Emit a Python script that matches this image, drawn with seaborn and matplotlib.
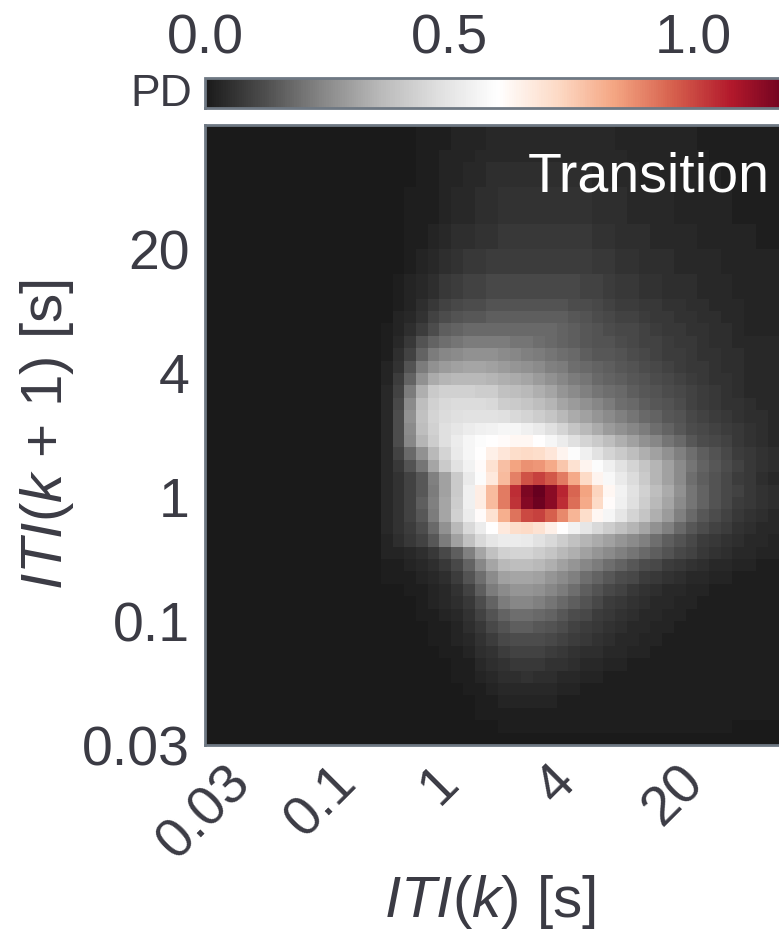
import numpy as np
import matplotlib
matplotlib.use("Agg")
import matplotlib.pyplot as plt
from matplotlib.ticker import FormatStrFormatter
import seaborn as sns

sns.set_theme(style="white")
plt.rcParams["font.family"] = ["Liberation Sans", "DejaVu Sans"]
plt.rcParams["mathtext.fontset"] = "custom"
plt.rcParams["mathtext.rm"] = "Liberation Sans"
plt.rcParams["mathtext.it"] = "Liberation Sans:italic"

TEXT = "#3b3b44"
EDGE = "#6e7883"

# ITI bin labels shared by both axes (one label every tenth bin)
ITI_TICK_LABELS = ["0.03", "0.1", "1", "4", "20"]
CBAR_TICKS = [0.0, 0.5, 1.0]
PD_MAX = 1.2

# Transition density, percent of PD_MAX; rows run from long ITI(k+1) (top)
# to short (bottom); every row holds 15 empty bins followed by bins 15..49.
LEAD = [0] * 15
PD_LEVELS = [
    LEAD + [0, 0, 0, 1, 1, 1, 2, 2, 2, 3, 3, 3, 3, 3, 3, 3, 3, 3, 3, 3, 2, 2, 2, 2, 2, 2, 2, 1, 1, 1, 1, 1, 1, 1, 1],
    LEAD + [0, 0, 0, 1, 1, 1, 2, 2, 2, 3, 3, 3, 3, 3, 3, 3, 3, 3, 3, 3, 2, 2, 2, 2, 2, 2, 2, 1, 1, 1, 1, 1, 1, 1, 1],
    LEAD + [0, 0, 0, 1, 1, 2, 2, 2, 3, 3, 3, 3, 3, 3, 3, 3, 3, 3, 3, 3, 3, 2, 2, 2, 2, 2, 2, 2, 1, 1, 1, 1, 1, 1, 1],
    LEAD + [0, 0, 0, 1, 1, 2, 2, 3, 3, 4, 4, 4, 4, 4, 4, 4, 4, 4, 3, 3, 3, 3, 2, 2, 2, 2, 2, 2, 2, 1, 1, 1, 1, 1, 1],
    LEAD + [0, 0, 0, 1, 1, 2, 2, 3, 3, 4, 4, 4, 4, 4, 4, 4, 4, 4, 3, 3, 3, 3, 2, 2, 2, 2, 2, 2, 2, 1, 1, 1, 1, 1, 1],
    LEAD + [0, 0, 1, 1, 1, 2, 3, 3, 4, 4, 5, 5, 5, 5, 5, 5, 5, 5, 4, 4, 4, 3, 3, 3, 3, 2, 2, 2, 2, 2, 1, 1, 1, 1, 1],
    LEAD + [0, 0, 1, 1, 1, 2, 3, 3, 4, 4, 5, 5, 5, 5, 5, 5, 5, 5, 4, 4, 4, 3, 3, 3, 3, 2, 2, 2, 2, 2, 1, 1, 1, 1, 1],
    LEAD + [0, 0, 1, 1, 1, 2, 3, 3, 4, 4, 5, 5, 5, 5, 5, 5, 5, 5, 4, 4, 4, 3, 3, 3, 3, 2, 2, 2, 2, 2, 1, 1, 1, 1, 1],
    LEAD + [0, 0, 1, 1, 2, 3, 4, 4, 5, 5, 6, 6, 6, 6, 6, 6, 6, 6, 5, 5, 4, 4, 4, 3, 3, 3, 3, 2, 2, 2, 2, 2, 1, 1, 1],
    LEAD + [0, 0, 1, 1, 2, 3, 4, 4, 5, 5, 6, 6, 6, 6, 6, 6, 6, 6, 5, 5, 4, 4, 4, 3, 3, 3, 3, 2, 2, 2, 2, 2, 1, 1, 1],
    LEAD + [0, 0, 1, 2, 3, 4, 5, 6, 6, 7, 7, 7, 7, 7, 7, 7, 7, 7, 6, 6, 5, 5, 4, 4, 4, 3, 3, 3, 3, 2, 2, 2, 2, 2, 2],
    LEAD + [0, 0, 1, 2, 3, 4, 5, 6, 6, 7, 7, 7, 7, 7, 7, 7, 7, 7, 6, 6, 5, 5, 4, 4, 4, 3, 3, 3, 3, 2, 2, 2, 2, 2, 2],
    LEAD + [0, 1, 2, 3, 4, 6, 7, 8, 8, 9, 9, 9, 9, 9, 9, 9, 9, 8, 8, 7, 6, 6, 5, 5, 4, 4, 4, 3, 3, 3, 2, 2, 2, 2, 2],
    LEAD + [0, 1, 2, 3, 4, 6, 7, 8, 8, 9, 9, 9, 9, 9, 9, 9, 9, 8, 8, 7, 6, 6, 5, 5, 4, 4, 4, 3, 3, 3, 2, 2, 2, 2, 2],
    LEAD + [0, 1, 2, 4, 6, 8, 9, 10, 10, 11, 11, 11, 11, 11, 11, 11, 10, 10, 9, 8, 7, 7, 6, 6, 5, 5, 4, 4, 3, 3, 3, 2, 2, 2, 2],
    LEAD + [0, 2, 3, 5, 8, 10, 11, 12, 12, 13, 13, 13, 13, 13, 13, 13, 12, 11, 10, 9, 8, 8, 7, 6, 6, 5, 5, 4, 4, 3, 3, 2, 2, 2, 2],
    LEAD + [1, 2, 4, 7, 10, 13, 14, 15, 15, 15, 15, 15, 15, 15, 15, 14, 13, 12, 11, 10, 9, 9, 8, 7, 6, 6, 5, 5, 4, 4, 3, 2, 2, 2, 2],
    LEAD + [1, 3, 6, 11, 14, 16, 17, 18, 18, 18, 18, 17, 17, 16, 15, 14, 13, 12, 11, 11, 10, 9, 8, 8, 7, 6, 6, 5, 4, 4, 3, 3, 3, 3, 3],
    LEAD + [1, 4, 8, 14, 18, 20, 21, 22, 22, 22, 21, 20, 19, 18, 17, 16, 15, 13, 12, 12, 11, 10, 9, 8, 7, 7, 6, 5, 5, 4, 4, 3, 3, 3, 3],
    LEAD + [2, 5, 11, 18, 22, 24, 25, 26, 26, 25, 24, 23, 22, 21, 19, 18, 16, 15, 14, 13, 12, 11, 10, 9, 8, 7, 6, 6, 5, 4, 4, 3, 3, 3, 3],
    LEAD + [2, 7, 14, 22, 27, 29, 30, 30, 30, 29, 28, 27, 26, 24, 22, 20, 18, 17, 15, 14, 13, 12, 11, 10, 9, 8, 7, 6, 5, 5, 4, 3, 3, 3, 3],
    LEAD + [3, 8, 18, 28, 34, 36, 36, 36, 35, 35, 32, 31, 30, 28, 26, 23, 21, 19, 17, 16, 15, 13, 12, 11, 10, 9, 8, 7, 6, 5, 4, 3, 3, 3, 3],
    LEAD + [3, 9, 21, 31, 36, 38, 39, 39, 39, 38, 35, 34, 33, 31, 29, 26, 24, 22, 20, 18, 16, 15, 13, 12, 11, 10, 8, 7, 6, 5, 5, 4, 3, 3, 3],
    LEAD + [3, 10, 22, 32, 37, 39, 40, 41, 41, 41, 40, 38, 37, 35, 33, 30, 27, 25, 23, 21, 19, 17, 15, 14, 12, 11, 9, 8, 7, 6, 5, 4, 4, 3, 3],
    LEAD + [3, 10, 21, 31, 36, 40, 42, 44, 45, 46, 47, 47, 45, 43, 40, 37, 33, 30, 27, 24, 22, 20, 18, 16, 14, 12, 10, 9, 8, 7, 6, 5, 4, 3, 3],
    LEAD + [3, 10, 20, 29, 35, 40, 44, 47, 49, 50, 51, 52, 52, 50, 47, 44, 40, 37, 34, 31, 28, 25, 22, 20, 17, 15, 12, 10, 9, 8, 6, 5, 4, 3, 3],
    LEAD + [3, 8, 15, 22, 30, 37, 43, 47, 50, 54, 57, 59, 60, 59, 57, 53, 49, 45, 41, 37, 34, 31, 28, 25, 22, 19, 16, 13, 11, 9, 7, 6, 5, 4, 3],
    LEAD + [3, 6, 11, 17, 26, 34, 41, 46, 51, 58, 65, 70, 73, 72, 69, 64, 58, 53, 49, 45, 41, 37, 33, 29, 25, 21, 17, 14, 12, 10, 8, 6, 5, 4, 3],
    LEAD + [3, 5, 8, 12, 19, 25, 34, 43, 49, 56, 66, 75, 82, 84, 81, 76, 69, 60, 53, 48, 43, 39, 34, 29, 25, 21, 16, 13, 11, 9, 7, 6, 4, 3, 2],
    LEAD + [3, 5, 8, 12, 18, 25, 34, 45, 55, 66, 76, 87, 97, 100, 95, 88, 79, 70, 61, 52, 46, 41, 36, 31, 27, 22, 17, 14, 11, 9, 8, 6, 5, 4, 3],
    LEAD + [3, 5, 8, 13, 19, 26, 35, 45, 55, 66, 76, 86, 96, 99, 95, 87, 78, 69, 60, 51, 45, 40, 35, 30, 26, 21, 17, 14, 11, 9, 7, 6, 5, 4, 3],
    LEAD + [3, 5, 8, 12, 18, 26, 36, 44, 51, 58, 68, 77, 83, 84, 80, 74, 67, 59, 52, 47, 42, 37, 33, 28, 24, 19, 15, 12, 10, 8, 6, 5, 4, 3, 2],
    LEAD + [3, 5, 7, 10, 15, 22, 30, 38, 44, 50, 56, 59, 60, 58, 54, 50, 46, 42, 38, 35, 32, 29, 26, 22, 19, 15, 12, 10, 8, 7, 5, 4, 3, 3, 2],
    LEAD + [2, 4, 6, 8, 12, 18, 25, 32, 38, 42, 44, 44, 43, 41, 38, 35, 32, 29, 27, 25, 23, 21, 19, 16, 13, 11, 9, 7, 6, 5, 4, 3, 3, 2, 2],
    LEAD + [2, 2, 3, 4, 6, 9, 13, 19, 26, 32, 36, 37, 37, 35, 33, 30, 28, 25, 23, 21, 19, 17, 15, 13, 11, 9, 8, 6, 5, 4, 3, 3, 2, 2, 2],
    LEAD + [1, 1, 2, 3, 4, 6, 9, 14, 20, 26, 30, 31, 31, 30, 28, 25, 23, 20, 18, 16, 14, 12, 10, 9, 7, 6, 5, 4, 3, 3, 2, 2, 1, 1, 1],
    LEAD + [1, 1, 1, 2, 3, 4, 7, 11, 16, 21, 25, 26, 26, 25, 23, 21, 19, 16, 14, 12, 10, 9, 7, 6, 5, 4, 3, 3, 2, 2, 1, 1, 1, 1, 1],
    LEAD + [0, 0, 1, 1, 2, 3, 5, 8, 13, 18, 21, 23, 23, 22, 20, 18, 16, 13, 11, 9, 8, 6, 5, 4, 3, 3, 2, 2, 1, 1, 1, 1, 1, 1, 1],
    LEAD + [0, 0, 0, 1, 2, 3, 4, 6, 10, 14, 18, 20, 20, 19, 17, 15, 13, 11, 9, 7, 6, 5, 4, 3, 3, 2, 2, 1, 1, 1, 1, 1, 1, 1, 1],
    LEAD + [0, 0, 0, 1, 1, 2, 3, 5, 8, 11, 14, 16, 16, 15, 14, 12, 10, 9, 7, 6, 5, 4, 3, 3, 2, 2, 1, 1, 1, 1, 1, 1, 1, 1, 1],
    LEAD + [0, 0, 0, 0, 1, 1, 2, 4, 6, 9, 11, 13, 13, 12, 11, 10, 8, 7, 6, 5, 4, 3, 3, 2, 2, 1, 1, 1, 1, 1, 1, 1, 1, 1, 1],
    LEAD + [0, 0, 0, 0, 1, 1, 2, 3, 5, 7, 9, 10, 10, 10, 9, 8, 7, 6, 5, 4, 3, 3, 2, 2, 1, 1, 1, 1, 1, 1, 1, 1, 1, 1, 1],
    LEAD + [0, 0, 0, 0, 0, 1, 1, 2, 4, 5, 7, 8, 8, 8, 7, 6, 5, 4, 4, 3, 3, 2, 2, 1, 1, 1, 1, 1, 1, 1, 1, 1, 1, 1, 1],
    LEAD + [0, 0, 0, 0, 0, 0, 1, 1, 3, 4, 5, 6, 6, 6, 5, 5, 4, 3, 3, 2, 2, 1, 1, 1, 1, 1, 1, 1, 1, 1, 1, 1, 1, 1, 1],
    LEAD + [0, 0, 0, 0, 0, 0, 1, 1, 2, 3, 4, 4, 5, 4, 4, 3, 3, 2, 2, 1, 1, 1, 1, 1, 1, 1, 1, 1, 1, 1, 1, 1, 1, 1, 1],
    LEAD + [0, 0, 0, 0, 0, 0, 0, 1, 1, 2, 3, 3, 3, 3, 3, 2, 2, 1, 1, 1, 1, 1, 1, 1, 1, 1, 1, 1, 1, 1, 1, 1, 1, 1, 1],
    LEAD + [0, 0, 0, 0, 0, 0, 0, 0, 1, 1, 2, 2, 2, 2, 2, 1, 1, 1, 1, 1, 1, 1, 1, 1, 1, 1, 1, 1, 1, 1, 1, 1, 1, 1, 1],
    LEAD + [0, 0, 0, 0, 0, 0, 0, 0, 1, 1, 1, 1, 1, 1, 1, 1, 1, 1, 1, 1, 1, 1, 1, 1, 1, 1, 1, 1, 1, 1, 1, 1, 1, 1, 0],
    LEAD + [0, 0, 0, 0, 0, 0, 0, 0, 0, 0, 1, 1, 1, 1, 1, 1, 1, 1, 1, 1, 1, 1, 1, 1, 1, 1, 1, 1, 1, 1, 0, 0, 0, 0, 0],
    LEAD + [0, 0, 0, 0, 0, 0, 0, 0, 0, 0, 0, 0, 0, 0, 0, 0, 0, 0, 0, 0, 0, 0, 0, 0, 0, 0, 0, 0, 0, 0, 0, 0, 0, 0, 0],
]

for i, row in enumerate(PD_LEVELS):
    if len(row) != 50:
        raise ValueError(f"row {i} has {len(row)} bins")

pd_grid = np.array(PD_LEVELS, dtype=float) / 100.0 * PD_MAX
n_rows, n_cols = pd_grid.shape

W, H = 779, 943
fig = plt.figure(figsize=(W / 100, H / 100), dpi=100)
ax = fig.add_axes([205 / W, 1 - 745 / H, 586 / W, 620 / H])
cax = fig.add_axes([205 / W, 1 - 108 / H, 586 / W, 30 / H])

sns.heatmap(
    pd_grid, ax=ax, cmap="RdGy_r", vmin=0, vmax=PD_MAX,
    cbar_ax=cax,
    cbar_kws=dict(orientation="horizontal", ticks=CBAR_TICKS),
    xticklabels=False, yticklabels=False,
)

n_lab = len(ITI_TICK_LABELS)
ax.set_xticks(np.arange(n_lab) * (n_cols // n_lab))
ax.set_xticklabels(ITI_TICK_LABELS, rotation=45, ha="center")
ax.set_yticks(n_rows - np.arange(n_lab) * (n_rows // n_lab))
ax.set_yticklabels(ITI_TICK_LABELS, rotation=0)
ax.tick_params(axis="x", length=0, pad=8, labelsize=40, colors=TEXT)
ax.tick_params(axis="y", length=0, pad=11, labelsize=40, colors=TEXT)

for sp in ax.spines.values():
    sp.set_visible(True)
    sp.set_color(EDGE)
    sp.set_linewidth(2)

ax.set_xlabel(r"$ITI(k)$ [s]", fontsize=42, color=TEXT)
ax.set_ylabel(r"$ITI(k$ + $1)$ [s]", fontsize=42, color=TEXT)
ax.xaxis.set_label_coords((490 - 205) / 586, -(873 - 745) / 620)
ax.yaxis.set_label_coords(-(205 - 76) / 586, 0.5)

ax.text((770 - 205) / 586, (745 - 192) / 620, "Transition", transform=ax.transAxes,
        ha="right", va="baseline", color="white", fontsize=40)

cbar = ax.collections[0].colorbar
cbar.outline.set_edgecolor(EDGE)
cbar.outline.set_linewidth(2)
cax.xaxis.set_ticks_position("top")
cax.xaxis.set_major_formatter(FormatStrFormatter("%.1f"))
cax.tick_params(axis="x", length=0, pad=9, labelsize=40, colors=TEXT)
cax.text(-0.022, 0.45, "PD", transform=cax.transAxes, ha="right", va="center",
         fontsize=32, color=TEXT)

fig.savefig("out.png", dpi=100)
